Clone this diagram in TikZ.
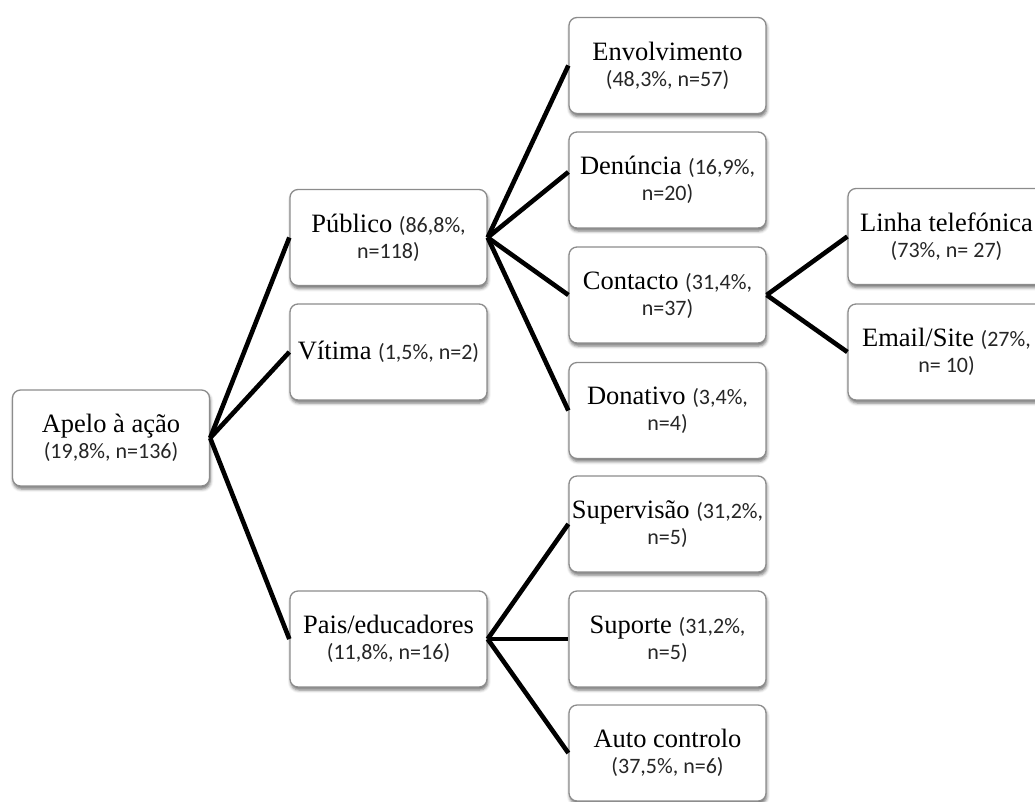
\documentclass[tikz,border=0pt]{standalone}
\usepackage{fontspec}
\setmainfont{Liberation Serif}
\newfontfamily\calfont{Carlito}
\usetikzlibrary{shadows.blur}

\definecolor{boxgray}{HTML}{8C8C8C}
\newcommand\pct[1]{{\calfont\fontsize{22}{26}\selectfont\color{black!85}#1}}

\tikzset{
  box/.style={draw=boxgray, line width=1.3pt, rounded corners=8pt, fill=white,
    minimum width=197pt, minimum height=96pt, align=center, inner sep=2pt,
    font=\fontsize{26.5}{26}\selectfont,
    blur shadow={shadow xshift=0.8pt, shadow yshift=-3pt, shadow blur radius=3pt,
      shadow opacity=55}},
  conn/.style={draw=black, line width=4.6pt}
}

\begin{document}
\begin{tikzpicture}[x=1pt, y=-1pt]
  \useasboundingbox (0,0) rectangle (1035,801);

  % root
  \node[box] (apelo) at (111,438) {Apelo à ação\\\pct{(19,8\%, n=136)}};

  % second level
  \node[box] (publico) at (388.5,237.5) {Público \pct{(86,8\%,}\\\pct{n=118)}};
  \node[box] (vitima)  at (388.5,352)   {Vítima \pct{(1,5\%, n=2)}};
  \node[box] (pais)    at (388.5,639)   {Pais/educadores\\\pct{(11,8\%, n=16)}};

  % third level
  \node[box] (envol) at (667.5,65.5)  {Envolvimento\\\pct{(48,3\%, n=57)}};
  \node[box] (denun) at (667.5,180)   {Denúncia \pct{(16,9\%,}\\\pct{n=20)}};
  \node[box] (conta) at (667.5,295)   {Contacto \pct{(31,4\%,}\\\pct{n=37)}};
  \node[box] (donat) at (667.5,410.5) {Donativo \pct{(3,4\%,}\\\pct{n=4)}};
  \node[box] (super) at (667.5,524)   {Supervisão \pct{(31,2\%,}\\\pct{n=5)}};
  \node[box] (suport) at (667.5,639)  {Suporte \pct{(31,2\%,}\\\pct{n=5)}};
  \node[box] (auto)  at (667.5,753)   {Auto controlo\\\pct{(37,5\%, n=6)}};

  % fourth level
  \node[box] (linha) at (946.5,236.5) {Linha telefónica\\\pct{(73\%, n= 27)}};
  \node[box] (email) at (946.5,352)   {Email/Site \pct{(27\%,}\\\pct{n= 10)}};

  % connectors
  \draw[conn] (apelo.east) -- (publico.west);
  \draw[conn] (apelo.east) -- (vitima.west);
  \draw[conn] (apelo.east) -- (pais.west);

  \draw[conn] (publico.east) -- (envol.west);
  \draw[conn] (publico.east) -- ([yshift=8pt]denun.west);
  \draw[conn] (publico.east) -- (conta.west);
  \draw[conn] (publico.east) -- (donat.west);

  \draw[conn] (pais.east) -- (super.west);
  \draw[conn] (pais.east) -- (suport.west);
  \draw[conn] (pais.east) -- (auto.west);

  \draw[conn] (conta.east) -- (linha.west);
  \draw[conn] (conta.east) -- (email.west);
\end{tikzpicture}
\end{document}
